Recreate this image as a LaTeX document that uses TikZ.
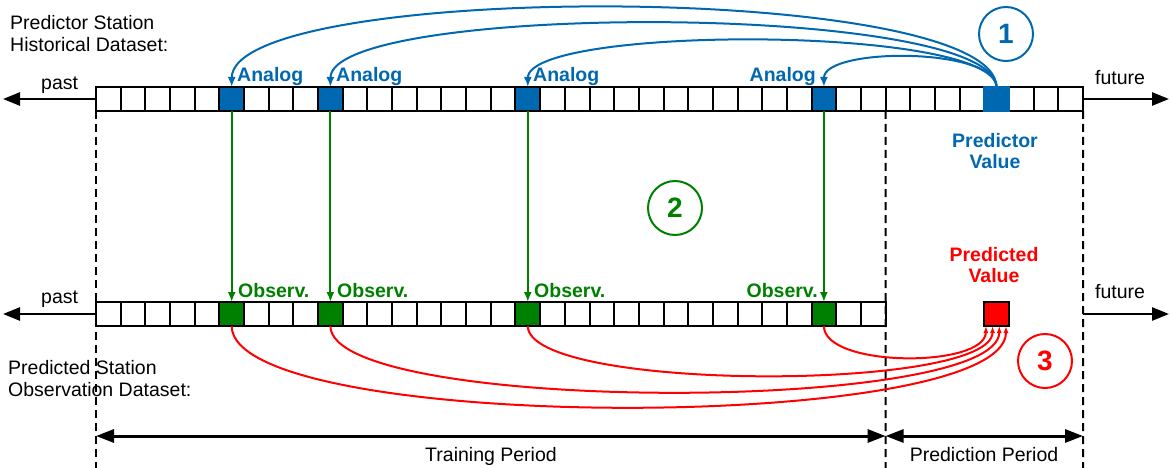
\documentclass[tikz,border=0pt]{standalone}
\usepackage{fontspec}
\setmainfont{Liberation Sans}
\usetikzlibrary{arrows.meta}
\definecolor{cblue}{RGB}{0,104,176}
\definecolor{cgreen}{RGB}{0,128,0}
\definecolor{cred}{RGB}{255,0,0}
\begin{document}
\begin{tikzpicture}[x=1pt,y=-1pt,
  cell/.style={draw=black, line width=2pt, fill=white, minimum width=24.675pt, minimum height=24pt, inner sep=0pt, outer sep=0pt},
  lbl/.style={font=\fontsize{19.5}{22}\selectfont, inner sep=0pt},
  blbl/.style={font=\fontsize{19.5}{22}\selectfont\bfseries, inner sep=0pt},
  circ/.style={circle, line width=2pt, minimum size=54pt, inner sep=0pt, font=\fontsize{28}{30}\selectfont\bfseries},
  barrow/.style={draw=cblue, line width=2pt, -{Latex[length=10pt,width=8pt]}},
  garrow/.style={draw=cgreen, line width=2pt, -{Latex[length=10pt,width=8pt]}},
  rarrow/.style={draw=cred, line width=2pt, -{Latex[length=7pt,width=5pt]}},
  parrow/.style={draw=black, line width=2.6pt, -{Triangle[length=17pt,width=13pt]}},
  dimarrow/.style={draw=black, line width=3pt, {Triangle[length=18pt,width=13pt]}-{Triangle[length=18pt,width=13pt]}},
  dline/.style={draw=black, line width=2pt, dash pattern=on 8pt off 5pt}
]
\useasboundingbox (0,0) rectangle (1170,468);

% top row cells
\foreach \k in {0,...,39} {
  \node[cell] (t\k) at ({96+24.675*(\k+0.5)}, 99) {};
}
% bottom row cells
\foreach \k in {0,...,31} {
  \node[cell] (b\k) at ({96+24.675*(\k+0.5)}, 314) {};
}
% analog cells
\node[cell, fill=cblue] (a1) at (231.7, 99) {};
\node[cell, fill=cblue] (a2) at (330.4, 99) {};
\node[cell, fill=cblue] (a3) at (527.8, 99) {};
\node[cell, fill=cblue] (a4) at (823.9, 99) {};
\node[cell, fill=cblue, draw=cblue] (pv) at (996.6, 99.5) {};
% observation cells
\node[cell, fill=cgreen] (o1) at (231.7, 314) {};
\node[cell, fill=cgreen] (o2) at (330.4, 314) {};
\node[cell, fill=cgreen] (o3) at (527.8, 314) {};
\node[cell, fill=cgreen] (o4) at (823.9, 314) {};
% predicted value cell
\node[cell, fill=cred, minimum width=25pt] (rv) at (996, 314) {};

% dashed lines
\coordinate (d1) at (96,468);
\coordinate (d2) at (885.6,468);
\coordinate (d3) at (1083,468);
\draw[dline] (t0.south west) -- (d1);
\draw[dline] (t31.south east) -- (d2);
\draw[dline] (t39.south east) -- (d3);

% past / future arrows
\coordinate (pastT) at (3,99);
\coordinate (futT) at (1169,99);
\coordinate (pastB) at (3,314);
\coordinate (futBs) at (1083,314);
\coordinate (futB) at (1169,314);
\draw[parrow] (t0.west) -- (pastT);
\draw[parrow] (t39.east) -- (futT);
\draw[parrow] (b0.west) -- (pastB);
\draw[parrow] (futBs) -- (futB);

\node[lbl, anchor=base west] (lpast1) at (41,90) {past};
\node[lbl, anchor=base west] (lfut1) at (1095,85) {future};
\node[lbl, anchor=base west] (lpast2) at (41,303) {past};
\node[lbl, anchor=base west] (lfut2) at (1095,298) {future};

% dataset titles
\node[lbl, anchor=base west] (ps1) at (10,30) {Predictor Station};
\node[lbl, anchor=base west] (ps2) at (10,51.5) {Historical Dataset:};
\node[lbl, anchor=base west] (os1) at (8,374) {Predicted Station};
\node[lbl, anchor=base west] (os2) at (8,396) {Observation Dataset:};

% blue curves
\draw[barrow] (pv.north) .. controls (996.6,-19) and (231.7,-19) .. (a1.north);
\draw[barrow] (pv.north) .. controls (996.6,2) and (330.4,2) .. (a2.north);
\draw[barrow] (pv.north) .. controls (996.6,25) and (527.8,25) .. (a3.north);
\draw[barrow] (pv.north) .. controls (996.6,47) and (823.9,47) .. (a4.north);

% analog labels
\node[blbl, text=cblue, anchor=base west] (la1) at (237,82) {Analog};
\node[blbl, text=cblue, anchor=base west] (la2) at (336,82) {Analog};
\node[blbl, text=cblue, anchor=base west] (la3) at (533,82) {Analog};
\node[blbl, text=cblue, anchor=base east] (la4) at (816,82) {Analog};

% green arrows
\draw[garrow] (a1.south) -- (o1.north);
\draw[garrow] (a2.south) -- (o2.north);
\draw[garrow] (a3.south) -- (o3.north);
\draw[garrow] (a4.south) -- (o4.north);

% observ labels
\node[blbl, text=cgreen, anchor=base west] (lo1) at (238,297) {Observ.};
\node[blbl, text=cgreen, anchor=base west] (lo2) at (337,297) {Observ.};
\node[blbl, text=cgreen, anchor=base west] (lo3) at (534,297) {Observ.};
\node[blbl, text=cgreen, anchor=base east] (lo4) at (818,297) {Observ.};

% red curves
\draw[rarrow] (o1.south) .. controls (231.7,434) and (1006,434) .. ([xshift=10pt]rv.south);
\draw[rarrow] (o2.south) .. controls (330.4,414) and (999,414) .. ([xshift=3.3pt]rv.south);
\draw[rarrow] (o3.south) .. controls (527.8,392) and (992,392) .. ([xshift=-3.4pt]rv.south);
\draw[rarrow] (o4.south) .. controls (823.9,368) and (985,368) .. ([xshift=-10pt]rv.south);

% value labels
\node[blbl, text=cblue, anchor=base] (pvl1) at (995,147) {Predictor};
\node[blbl, text=cblue, anchor=base] (pvl2) at (995,168) {Value};
\node[blbl, text=cred, anchor=base] (rvl1) at (994,261) {Predicted};
\node[blbl, text=cred, anchor=base] (rvl2) at (994,282) {Value};

% numbered circles
\node[circ, draw=cblue, text=cblue] (c1) at (1006,34) {1};
\node[circ, draw=cgreen, text=cgreen] (c2) at (675,208) {2};
\node[circ, draw=cred, text=cred] (c3) at (1045,361) {3};

% period arrows
\coordinate (pL) at (96,436);
\coordinate (pM) at (885.6,436);
\coordinate (pR) at (1083,436);
\draw[dimarrow] (pL) -- (pM);
\draw[dimarrow] (pM) -- (pR);
\node[lbl, anchor=base] (tp) at (491,461) {Training Period};
\node[lbl, anchor=base] (pp) at (984,461) {Prediction Period};
\end{tikzpicture}
\end{document}
